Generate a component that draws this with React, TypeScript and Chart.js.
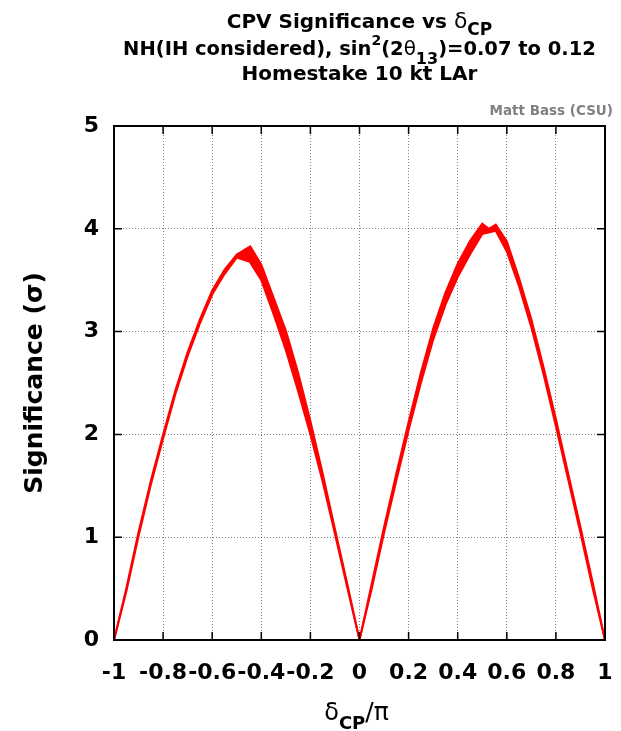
import React, { useEffect, useRef } from "react";
import { Chart, registerables } from "chart.js";

Chart.register(...registerables);

// ---- data ----
const upperDelta = [-1, -0.95, -0.9, -0.85, -0.8, -0.75, -0.7, -0.65, -0.6, -0.55, -0.5, -0.445, -0.4, -0.35, -0.3, -0.25, -0.2, -0.15, -0.1, -0.05, 0,
  0.05, 0.1, 0.15, 0.2, 0.25, 0.3, 0.35, 0.4, 0.45, 0.5, 0.527, 0.555, 0.6, 0.65, 0.7, 0.75, 0.8, 0.85, 0.9, 0.95, 1];
const upperSig = [0, 0.5, 1.05, 1.55, 2.0, 2.43, 2.8, 3.12, 3.4, 3.6, 3.75, 3.83, 3.65, 3.33, 3.01, 2.6, 2.13, 1.62, 1.08, 0.55, 0,
  0.55, 1.1, 1.62, 2.12, 2.6, 3.03, 3.38, 3.66, 3.88, 4.05, 4.0, 4.04, 3.88, 3.52, 3.12, 2.65, 2.15, 1.62, 1.1, 0.56, 0];
const lowerDelta = [-1, -0.95, -0.9, -0.85, -0.8, -0.75, -0.7, -0.65, -0.6, -0.55, -0.5, -0.447, -0.4, -0.35, -0.3, -0.25, -0.2, -0.15, -0.1, -0.05, 0,
  0.05, 0.1, 0.15, 0.2, 0.25, 0.3, 0.35, 0.4, 0.45, 0.5, 0.555, 0.6, 0.65, 0.7, 0.75, 0.8, 0.85, 0.9, 0.95, 1];
const lowerSig = [0, 0.47, 1.01, 1.51, 1.96, 2.39, 2.76, 3.08, 3.36, 3.56, 3.72, 3.68, 3.5, 3.17, 2.82, 2.42, 2.0, 1.54, 1.03, 0.51, 0,
  0.5, 1.04, 1.55, 2.04, 2.5, 2.92, 3.26, 3.53, 3.75, 3.95, 3.98, 3.78, 3.44, 3.04, 2.58, 2.08, 1.56, 1.04, 0.5, 0];

const xTickValues = [-1, -0.8, -0.6, -0.4, -0.2, 0, 0.2, 0.4, 0.6, 0.8, 1];
const xTickLabels = ["-1", "-0.8", "-0.6", "-0.4", "-0.2", "0", "0.2", "0.4", "0.6", "0.8", "1"];
const yTickValues = [0, 1, 2, 3, 4, 5];
const yTickLabels = ["0", "1", "2", "3", "4", "5"];

const FONT = "'DejaVu Sans', 'Liberation Sans', sans-serif";

type Run = { t: string; size: number; bold?: boolean; dy?: number };

const titleLines: Run[][] = [
  [
    { t: "CPV Significance vs ", size: 20, bold: true },
    { t: "δ", size: 22 },
    { t: "CP", size: 17, bold: true, dy: 7 },
  ],
  [
    { t: "NH(IH considered), sin", size: 19.5, bold: true },
    { t: "2", size: 14, bold: true, dy: -10 },
    { t: "(2", size: 19.5, bold: true },
    { t: "θ", size: 20 },
    { t: "13", size: 16, bold: true, dy: 9 },
    { t: ")=0.07 to 0.12", size: 19.5, bold: true },
  ],
  [{ t: "Homestake 10 kt LAr", size: 20, bold: true }],
];
const xTitleRuns: Run[] = [
  { t: "δ", size: 24 },
  { t: "CP", size: 18, bold: true, dy: 9 },
  { t: "/π", size: 25 },
];
const creditText = "Matt Bass (CSU)";
const yTitleText = "Significance (σ)";

function runFont(r: Run) {
  return `${r.bold ? "bold " : ""}${r.size}px ${FONT}`;
}

function drawRuns(ctx: CanvasRenderingContext2D, runs: Run[], cx: number, baseline: number) {
  let w = 0;
  for (const r of runs) {
    ctx.font = runFont(r);
    w += ctx.measureText(r.t).width;
  }
  let x = cx - w / 2;
  ctx.textAlign = "left";
  ctx.textBaseline = "alphabetic";
  for (const r of runs) {
    ctx.font = runFont(r);
    ctx.fillText(r.t, x, baseline + (r.dy || 0));
    x += ctx.measureText(r.t).width;
  }
}

const framePlugin = {
  id: "frame",
  afterDatasetsDraw(chart: any) {
    const { ctx, chartArea } = chart;
    const { left, right, top, bottom } = chartArea;
    const xs = chart.scales.x;
    const ys = chart.scales.y;
    ctx.save();
    ctx.strokeStyle = "#000";
    ctx.lineWidth = 1.5;
    const tl = 8;
    ctx.beginPath();
    for (const v of xTickValues) {
      const px = xs.getPixelForValue(v);
      ctx.moveTo(px, bottom);
      ctx.lineTo(px, bottom - tl);
      ctx.moveTo(px, top);
      ctx.lineTo(px, top + tl);
    }
    for (const v of yTickValues) {
      const py = ys.getPixelForValue(v);
      ctx.moveTo(left, py);
      ctx.lineTo(left + tl, py);
      ctx.moveTo(right, py);
      ctx.lineTo(right - tl, py);
    }
    ctx.stroke();
    ctx.lineWidth = 2;
    ctx.strokeRect(left, top, right - left, bottom - top);
    ctx.restore();
  },
  afterDraw(chart: any) {
    const { ctx, chartArea } = chart;
    const cx = (chartArea.left + chartArea.right) / 2;
    ctx.save();
    ctx.fillStyle = "#000";
    const baselines = [28, 55, 80];
    titleLines.forEach((runs, i) => drawRuns(ctx, runs, cx, baselines[i]));
    drawRuns(ctx, xTitleRuns, cx - 3, 720);
    ctx.font = `bold 13.5px ${FONT}`;
    ctx.fillStyle = "#808080";
    ctx.textAlign = "right";
    ctx.textBaseline = "alphabetic";
    ctx.fillText(creditText, 613, 115);
    ctx.restore();
  },
};

export default function App() {
  const ref = useRef<HTMLCanvasElement>(null);
  useEffect(() => {
    document.body.style.margin = "0";
    const canvas = ref.current!;
    const chart = new Chart(canvas, {
      type: "line",
      data: {
        datasets: [
          {
            label: "upper",
            data: upperDelta.map((x, i) => ({ x, y: upperSig[i] })),
            borderColor: "#ff0000",
            backgroundColor: "#ff0000",
            borderWidth: 2,
            pointRadius: 0,
            tension: 0,
            fill: "+1",
          },
          {
            label: "lower",
            data: lowerDelta.map((x, i) => ({ x, y: lowerSig[i] })),
            borderColor: "#ff0000",
            backgroundColor: "#ff0000",
            borderWidth: 2,
            pointRadius: 0,
            tension: 0,
            fill: false,
          },
        ],
      },
      options: {
        animation: false,
        responsive: false,
        devicePixelRatio: 1,
        layout: { padding: { top: 126, right: 16, bottom: 0, left: 0 } },
        plugins: {
          legend: { display: false },
          title: { display: false },
          tooltip: { enabled: false },
        },
        scales: {
          x: {
            type: "linear",
            min: -1,
            max: 1,
            afterBuildTicks: (s: any) => {
              s.ticks = xTickValues.map((v) => ({ value: v }));
            },
            afterFit: (s: any) => {
              s.height = 91;
              s.paddingLeft = 0;
              s.paddingRight = 0;
            },
            ticks: {
              autoSkip: false,
              maxRotation: 0,
              minRotation: 0,
              padding: 20,
              color: "#000",
              font: { family: FONT, size: 22, weight: "bold" },
              callback: (v: any) => {
                const i = xTickValues.findIndex((t) => Math.abs(t - v) < 1e-6);
                return i >= 0 ? xTickLabels[i] : "";
              },
            },
            grid: { color: "rgba(0,0,0,0.5)", lineWidth: 1, drawTicks: false },
            border: { display: false, dash: [1, 2] },
          },
          y: {
            type: "linear",
            min: 0,
            max: 5,
            afterBuildTicks: (s: any) => {
              s.ticks = yTickValues.map((v) => ({ value: v }));
            },
            afterFit: (s: any) => {
              s.width = 114;
              s.paddingTop = 0;
              s.paddingBottom = 0;
            },
            ticks: {
              padding: 15,
              color: "#000",
              font: { family: FONT, size: 22, weight: "bold" },
              callback: (v: any) => {
                const i = yTickValues.findIndex((t) => Math.abs(t - v) < 1e-6);
                return i >= 0 ? yTickLabels[i] : "";
              },
            },
            grid: { color: "rgba(0,0,0,0.5)", lineWidth: 1, drawTicks: false },
            border: { display: false, dash: [1, 2] },
            title: {
              display: true,
              text: yTitleText,
              color: "#000",
              font: { family: FONT, size: 25, weight: "bold" },
              padding: { top: 20, bottom: 0 },
            },
          },
        },
      },
      plugins: [framePlugin],
    });
    return () => chart.destroy();
  }, []);
  return (
    <div style={{ width: 621, height: 731, position: "relative", overflow: "hidden", background: "#fff" }}>
      <canvas ref={ref} width={621} height={731} style={{ display: "block" }} />
    </div>
  );
}
